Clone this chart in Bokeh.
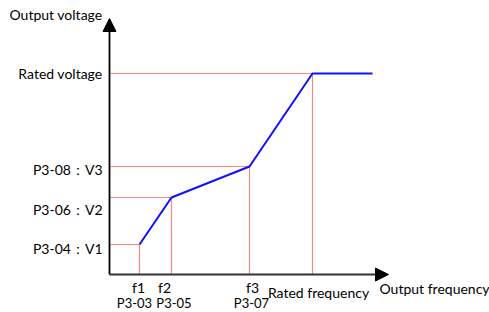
from bokeh.plotting import figure
from bokeh.models import Range1d, Arrow, NormalHead
from bokeh.core.properties import value
from bokeh.embed import file_html
from bokeh.resources import INLINE

# Break points of the V/F curve (arbitrary units)
freqs = [30, 62, 140, 203, 263]     # f1, f2, f3, rated frequency, end of curve
volts = [30, 77, 108, 201, 201]     # V1, V2, V3, rated voltage, rated voltage
ref_freqs = [30, 62, 140, 203]
ref_volts = [30, 77, 108, 201]

y_labels = ["Rated voltage", "P3-08：V3", "P3-06：V2", "P3-04：V1"]
y_label_pos = [201, 105, 65, 26]
f_names = ["f1", "f2", "f3"]
f_name_pos = [29, 55, 143]
f_params = ["P3-03", "P3-05", "P3-07"]
f_param_pos = [25, 64.5, 142]

x_axis_end = 279
y_axis_end = 256

FONT = "Lato"
FS = "14px"
TXT = "#000000"

p = figure(width=489, height=312, output_backend="svg", toolbar_location=None,
           x_range=Range1d(-109, 380), y_range=Range1d(-38, 274),
           x_axis_type=None, y_axis_type=None, min_border=0)
p.outline_line_color = None
p.xgrid.visible = False
p.ygrid.visible = False

red = "#f08888"
# horizontal guide lines
p.segment(x0=[0] * len(ref_volts), y0=ref_volts, x1=ref_freqs, y1=ref_volts,
          line_color=red, line_width=1.2)
# vertical guide lines
p.segment(x0=ref_freqs, y0=[0] * len(ref_freqs), x1=ref_freqs, y1=ref_volts,
          line_color=red, line_width=1.2)

# curve
p.line(freqs, volts, line_color="#1010ff", line_width=2)

# axes as arrows
p.add_layout(Arrow(x_start=0, y_start=0, x_end=0, y_end=y_axis_end,
                   line_color="black", line_width=1.8,
                   end=NormalHead(size=13, fill_color="black", line_color="black", line_width=1)))
p.add_layout(Arrow(x_start=0, y_start=0, x_end=x_axis_end, y_end=0,
                   line_color="#333333", line_width=1.8,
                   end=NormalHead(size=13, fill_color="black", line_color="black", line_width=1)))

# texts
p.text(x=[-100], y=[260], text=["Output voltage"], text_align="left", text_baseline="middle",
       text_font=value(FONT), text_font_size=FS, text_color=TXT)
p.text(x=[-7] * len(y_labels), y=y_label_pos, text=y_labels, text_align="right",
       text_baseline="middle", text_font=value(FONT), text_font_size=FS, text_color=TXT)
p.text(x=f_name_pos, y=[-13] * 3, text=f_names, text_align="center", text_baseline="middle",
       text_font=value(FONT), text_font_size=FS, text_color=TXT)
p.text(x=f_param_pos, y=[-28] * 3, text=f_params, text_align="center", text_baseline="middle",
       text_font=value(FONT), text_font_size="13px", text_color=TXT)
p.text(x=[209], y=[-18], text=["Rated frequency"], text_align="center", text_baseline="middle",
       text_font=value(FONT), text_font_size=FS, text_color=TXT)
p.text(x=[270], y=[-14], text=["Output frequency"], text_align="left", text_baseline="middle",
       text_font=value(FONT), text_font_size=FS, text_color=TXT)

open("out.html", "w").write(file_html(p, INLINE))
